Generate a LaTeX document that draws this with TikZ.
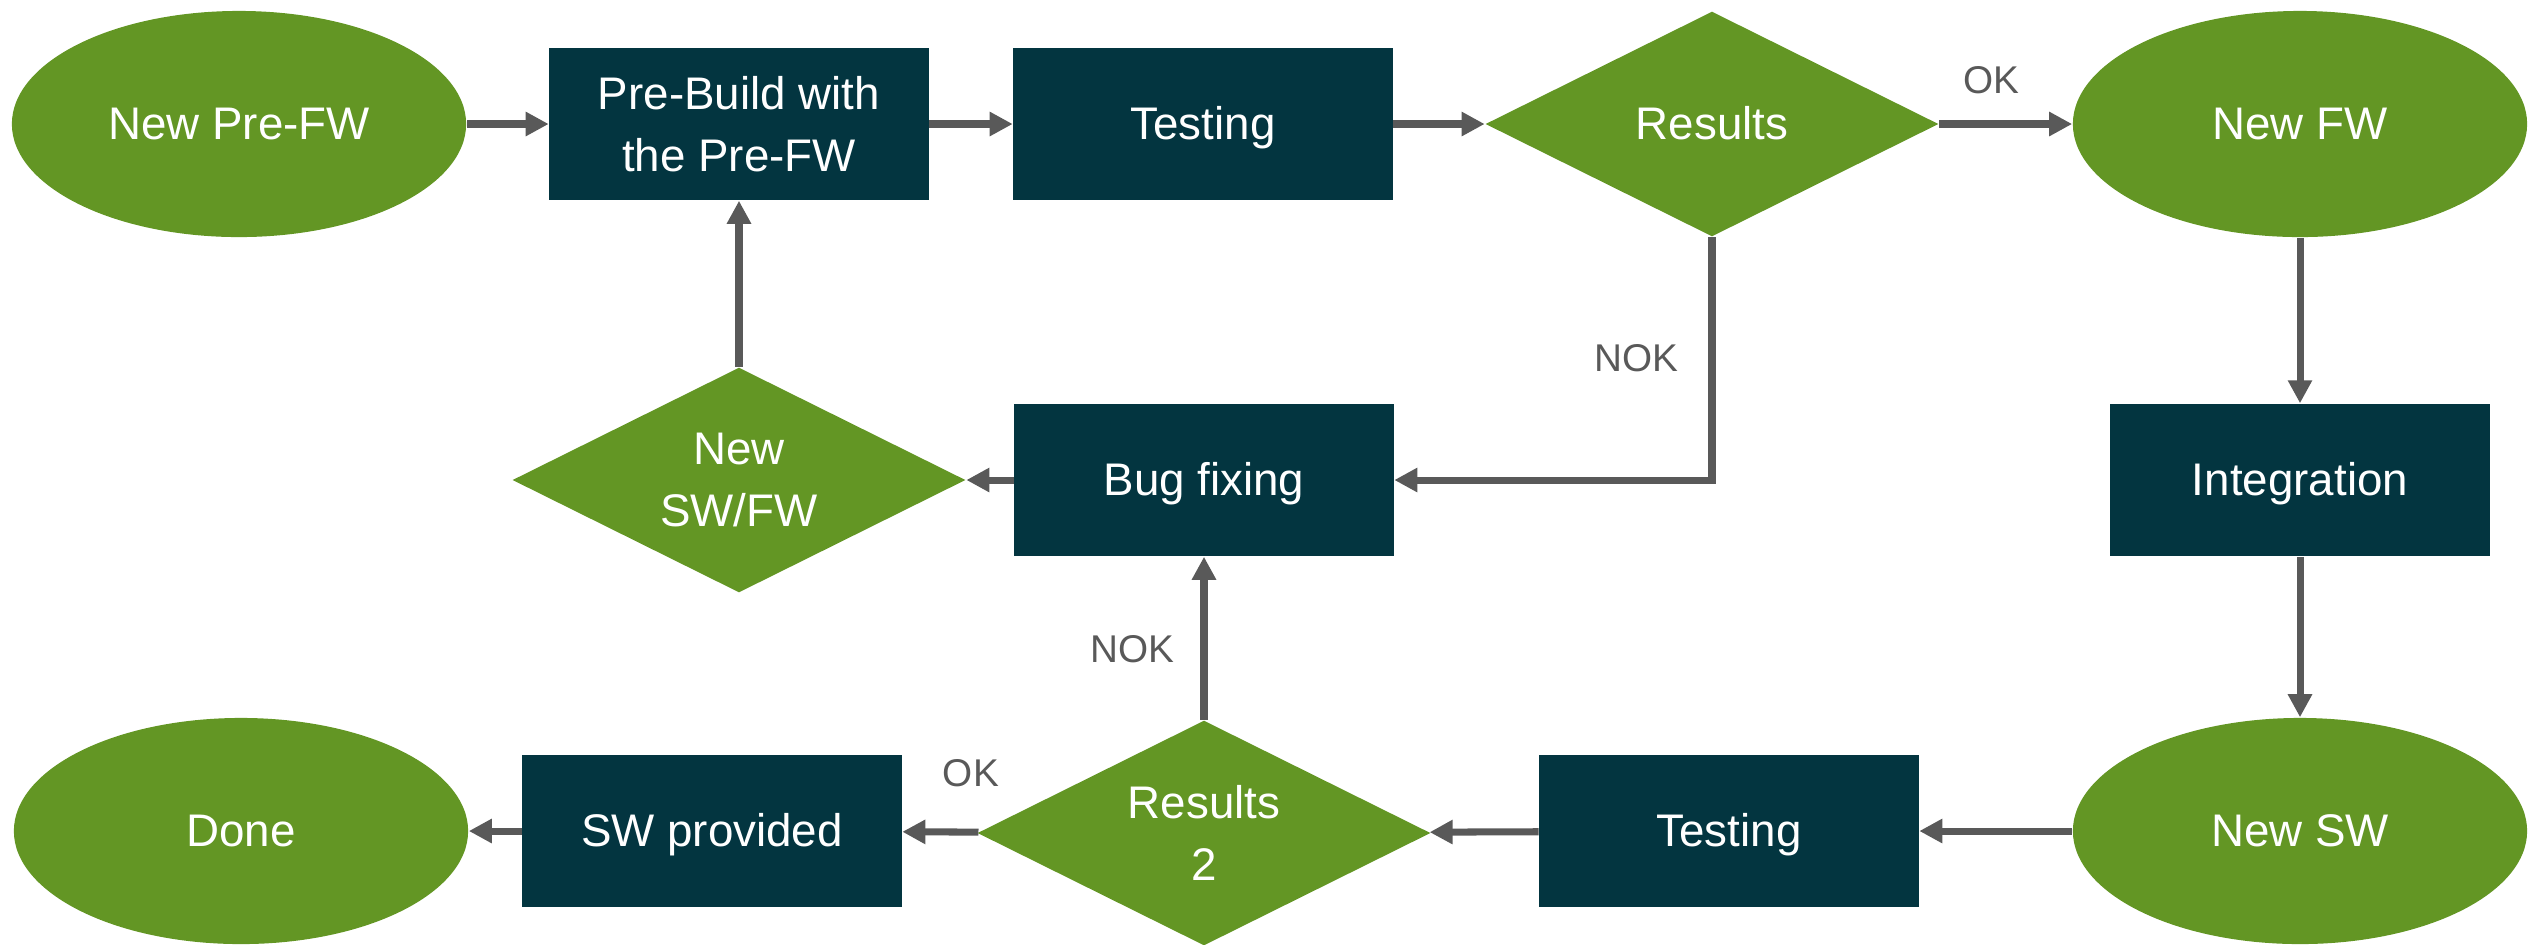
\documentclass[tikz,border=0pt]{standalone}
\usepackage{fontspec}
\setmainfont{Liberation Sans}
\usetikzlibrary{shapes.geometric,arrows.meta}
\definecolor{fgreen}{HTML}{639624}
\definecolor{fdark}{HTML}{033540}
\definecolor{fgray}{HTML}{595959}
\begin{document}
\begin{tikzpicture}[x=0.01cm,y=-0.01cm,
  every node/.style={font=\fontsize{13}{17.6}\selectfont, text=white, align=center, inner sep=0pt},
  oneline/.style={text height=0.88em, text depth=0pt},
  oval/.style={ellipse, fill=fgreen, minimum width=4.54cm, minimum height=2.26cm, oneline},
  stepbox/.style={rectangle, fill=fdark, minimum width=3.79cm, minimum height=1.52cm},
  decide/.style={diamond, shape aspect=2, fill=fgreen, minimum width=4.53cm, minimum height=2.25cm},
  conn/.style={draw=fgray, line width=2pt, -{Triangle[length=0.23cm,width=0.23cm]}},
  lbl/.style={font=\fontsize{11}{13}\selectfont, text=fgray}]
\useasboundingbox (0,0) rectangle (2529,944);
% top row
\node[oval] (newprefw) at (239,124) {New Pre-FW};
\node[stepbox] (prebuild) at (739,124) {Pre-Build with\\the Pre-FW};
\node[stepbox, oneline] (test1) at (1203,124) {Testing};
\node[decide, oneline] (res1) at (1712,124) {Results};
\node[oval] (newfw) at (2300,124) {New FW};
% middle row
\node[decide] (newswfw) at (739,480) {New\\SW/FW};
\node[stepbox, oneline] (bugfix) at (1204,480) {Bug fixing};
\node[stepbox, oneline] (integ) at (2300,480) {Integration};
% bottom row
\node[oval] (done) at (241,831) {Done};
\node[stepbox, oneline] (swprov) at (712,831) {SW provided};
\node[decide] (res2) at (1204,833) {Results\\2};
\node[stepbox, oneline] (test2) at (1729,831) {Testing};
\node[oval] (newsw) at (2300,831) {New SW};
% connectors
\draw[conn] (newprefw) -- (prebuild);
\draw[conn] (prebuild) -- (test1);
\draw[conn] (test1) -- (res1);
\draw[conn] (res1) -- node[lbl, pos=0.39, above=0.27cm] {OK} (newfw);
\draw[conn] (res1.south) |- node[lbl, pos=0.25, left=0.30cm] {NOK} (bugfix.east);
\draw[conn] (newfw) -- (integ);
\draw[conn] (integ) -- (newsw);
\draw[conn] (newsw) -- (test2);
\draw[conn] (test2) -- (res2);
\draw[conn] (res2) -- node[lbl, pos=0.1, above=0.42cm] {OK} (swprov);
\draw[conn] (swprov) -- (done);
\draw[conn] (res2.north) -- node[lbl, pos=0.43, left=0.26cm] {NOK} (bugfix.south);
\draw[conn] (bugfix) -- (newswfw);
\draw[conn] (newswfw.north) -- (prebuild.south);
\end{tikzpicture}
\end{document}
